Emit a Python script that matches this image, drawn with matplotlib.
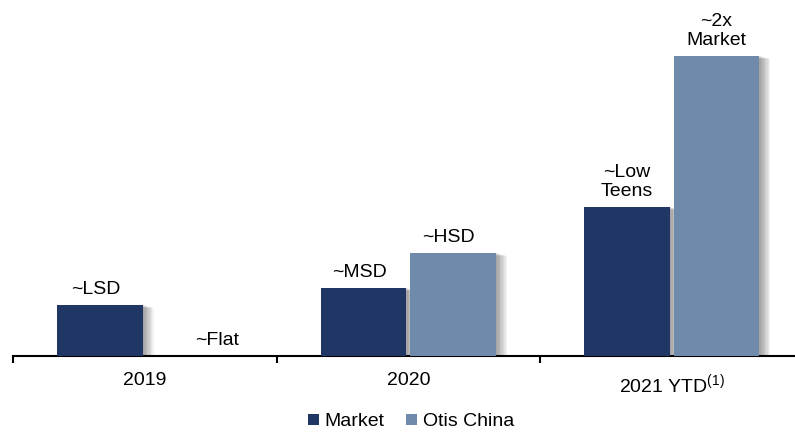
import matplotlib
matplotlib.use("Agg")
import matplotlib.pyplot as plt
import matplotlib.patheffects as pe
from matplotlib.patches import Patch
import numpy as np

plt.rcParams["font.family"] = ["Liberation Sans", "DejaVu Sans"]
plt.rcParams["mathtext.fontset"] = "custom"
plt.rcParams["mathtext.rm"] = "Liberation Sans"
plt.rcParams["mathtext.it"] = "Liberation Sans"

# Growth categories and relative bar heights (qualitative growth levels)
categories = ["2019", "2020", "2021 YTD$^{(1)}$"]
series_names = ["Market", "Otis China"]
market = [51, 68, 149]
otis_china = [0, 103, 300]
market_labels = ["~LSD", "~MSD", "~Low\nTeens"]
otis_labels = ["~Flat", "~HSD", "~2x\nMarket"]

colors = ["#203765", "#6F8AAB"]

fig = plt.figure(figsize=(7.95, 4.32), dpi=100)
ax = fig.add_axes([13 / 795, 1 - 355.5 / 432, 1 - 13 / 795, 355.5 / 432])

x = np.arange(len(categories))
width = 0.325
offset = 0.17

# soft drop shadow built from stacked translucent offsets
shadow = [pe.SimplePatchShadow(offset=(d, -d * 0.3), shadow_rgbFace="black", alpha=0.05)
          for d in range(1, 9)] + [pe.Normal()]

ax.bar(x - offset, market, width, color=colors[0], path_effects=shadow, zorder=3)
ax.bar(x + offset, otis_china, width, color=colors[1], path_effects=shadow, zorder=3)

ax.set_xlim(-0.5, (795 - 13) / 263.5 - 0.5)
ax.set_ylim(0, 355.5)

fs = 14


def label_shift(text, value):
    if value == 0:
        return 20
    return 0 if "\n" in text else -3


for xs, vals, texts in [(x - offset, market, market_labels),
                        (x + offset, otis_china, otis_labels)]:
    for xi, v, t in zip(xs, vals, texts):
        ax.annotate(t, (xi, v), xytext=(label_shift(t, v), 5), textcoords="offset points",
                    ha="center", va="bottom", fontsize=fs, linespacing=1.1)

for s in ["top", "right", "left"]:
    ax.spines[s].set_visible(False)
ax.spines["bottom"].set_linewidth(1.5)
ax.spines["bottom"].set_color("black")
ax.set_yticks([])

ax.set_xticks([-0.5, 0.5, 1.5])
ax.set_xticklabels([])
ax.tick_params(axis="x", which="major", length=5, width=1.5, direction="out", color="black")
ax.set_xticks(x, minor=True)
ax.set_xticklabels(categories, minor=True, fontsize=fs)
ax.tick_params(axis="x", which="minor", length=0, pad=12)

handles = [Patch(facecolor=c, edgecolor="none") for c in colors]
fig.legend(handles=handles, labels=series_names, loc="center",
           bbox_to_anchor=(411 / 795, 1 - 422 / 432), ncol=2, frameon=False,
           fontsize=fs, handlelength=0.55, handleheight=0.55, handletextpad=0.3,
           columnspacing=1.1)

fig.savefig("out.png", dpi=100)
